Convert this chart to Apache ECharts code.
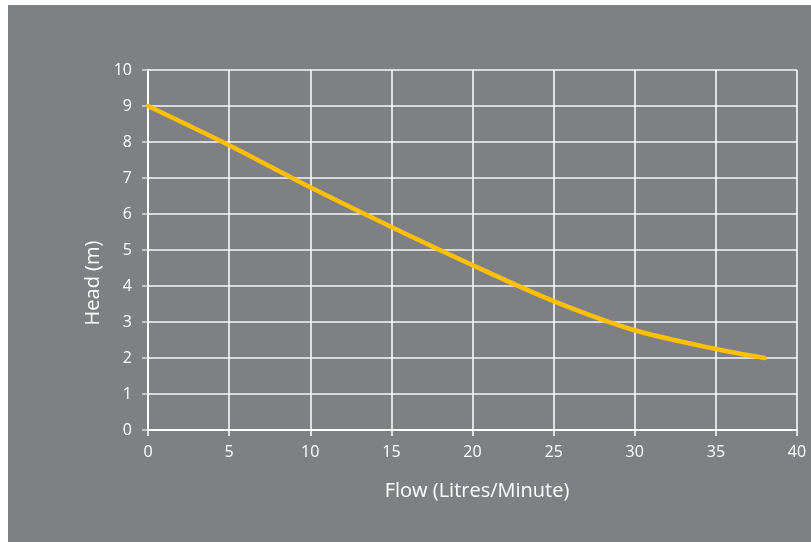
<!DOCTYPE html>
<html>
<head>
<meta charset="utf-8">
<script src="https://cdn.jsdelivr.net/npm/echarts@6/dist/echarts.min.js"></script>
<style>
html,body{margin:0;padding:0;background:#ffffff;width:811px;height:542px;overflow:hidden;}
#chart{position:absolute;left:8px;top:5px;width:803px;height:537px;}
</style>
</head>
<body>
<div id="chart"></div>
<script>
const flow = [0, 5, 10, 15, 20, 25, 30, 35, 38];
const head = [9.0, 7.91, 6.74, 5.64, 4.58, 3.58, 2.77, 2.25, 2.0];
const xAxisName = 'Flow (Litres/Minute)';
const yAxisName = 'Head (m)';

const chart = echarts.init(document.getElementById('chart'));
const font = '"Open Sans", "Noto Sans", sans-serif';
chart.setOption({
  backgroundColor: '#7f8084',
  animation: false,
  grid: { left: 140, right: 14, top: 65, bottom: 112 },
  xAxis: {
    type: 'value', min: 0, max: 40, interval: 5,
    name: xAxisName, nameLocation: 'middle', nameGap: 51,
    nameTextStyle: { color: '#ffffff', fontSize: 20, fontFamily: font, padding: [0, 0, 0, 9] },
    axisLine: { show: true, lineStyle: { color: '#ffffff', width: 2 } },
    axisTick: { show: true, length: 6, lineStyle: { color: '#ffffff', width: 1.5 } },
    axisLabel: { color: '#ffffff', fontSize: 16, fontFamily: font, margin: 14 },
    splitLine: { show: true, lineStyle: { color: '#ffffff', width: 1.5 } }
  },
  yAxis: {
    type: 'value', min: 0, max: 10, interval: 1,
    name: yAxisName, nameLocation: 'middle', nameGap: 42, nameRotate: 90,
    nameTextStyle: { color: '#ffffff', fontSize: 20, fontFamily: font, padding: [0, 66, 0, 0] },
    axisLine: { show: true, lineStyle: { color: '#ffffff', width: 2 } },
    axisTick: { show: true, length: 6, lineStyle: { color: '#d9d9d9', width: 1.5 } },
    axisLabel: { color: '#ffffff', fontSize: 16, fontFamily: font, margin: 16 },
    splitLine: { show: true, lineStyle: { color: '#d9d9d9', width: 2 } }
  },
  series: [{
    type: 'line',
    data: flow.map((f, i) => [f, head[i]]),
    smooth: 0.3,
    showSymbol: false,
    lineStyle: { color: '#ffc000', width: 4.5, cap: 'round' }
  }]
});
</script>
</body>
</html>
